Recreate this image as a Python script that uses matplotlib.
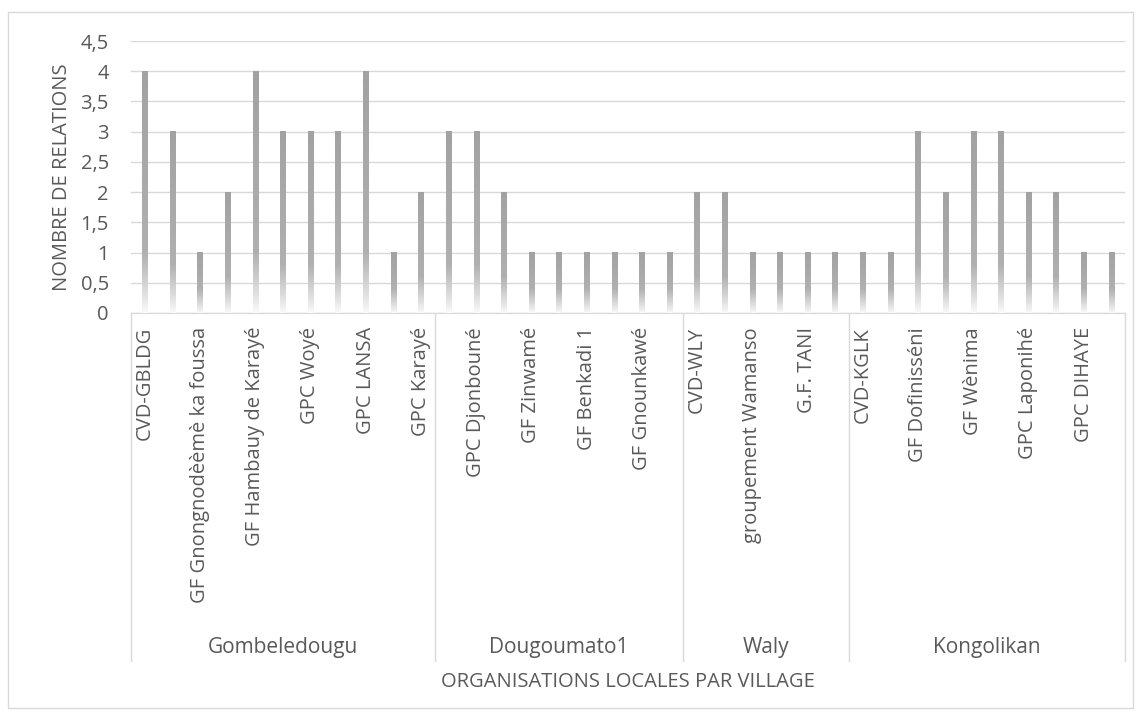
import numpy as np
import matplotlib.pyplot as plt
from matplotlib.colors import to_rgb
from matplotlib.patches import Rectangle

plt.rcParams['font.family'] = ['Open Sans', 'DejaVu Sans']

villages = ["Gombeledougu", "Dougoumato1", "Waly", "Kongolikan"]
group_sizes = [11, 9, 6, 10]

# only every other name is shown on the axis in the original
org_labels = [
    "CVD-GBLDG", "", "GF Gnongnodèèmè ka foussa", "", "GF Hambauy de Karayé", "",
    "GPC Woyé", "", "GPC LANSA", "", "GPC Karayé",
    "", "GPC Djonbouné", "", "GF Zinwamé", "", "GF Benkadi 1", "", "GF Gnounkawé", "",
    "CVD-WLY", "", "groupement Wamanso", "", "G.F. TANI", "",
    "CVD-KGLK", "", "GF Dofinisséni", "", "GF Wènima", "", "GPC Laponihé", "",
    "GPC DIHAYE", "",
]

relations = [4, 3, 1, 2, 4, 3, 3, 3, 4, 1, 2,
             3, 3, 2, 1, 1, 1, 1, 1, 1,
             2, 2, 1, 1, 1, 1,
             1, 1, 3, 2, 3, 3, 2, 2, 1, 1]

yticks = [0, 0.5, 1, 1.5, 2, 2.5, 3, 3.5, 4, 4.5]
ytick_labels = ["0", "0,5", "1", "1,5", "2", "2,5", "3", "3,5", "4", "4,5"]

txt = "#595959"
grid = "#d9d9d9"

W, H = 1141, 719
fig = plt.figure(figsize=(W / 100, H / 100), dpi=100)
fig.patches.append(Rectangle((8 / W, 1 - 708 / H), 1125 / W, 696 / H,
                             transform=fig.transFigure, fill=False,
                             edgecolor=grid, lw=1))

ax = fig.add_axes([131 / W, 1 - 313 / H, (1125 - 131) / W, (313 - 41) / H])
x = np.arange(len(relations))
bars = ax.bar(x, relations, width=0.19, color="none", zorder=3)

top_c = np.array(to_rgb("#a2a2a2"))
mid_c = np.array(to_rgb("#b0b0b0"))
white = np.array(to_rgb("#fbfbfb"))
for b in bars:
    h = b.get_height()
    yy = np.linspace(0, h, 300)
    fade = 0.2 + 0.2 * h
    t = np.clip(yy / fade, 0, 1) ** 0.9
    u = np.clip((yy - fade) / (h - fade + 1e-9), 0, 1)
    col = white + (mid_c - white) * t[:, None]
    col = col + (top_c - mid_c) * u[:, None]
    ax.imshow(col[::-1, None, :], aspect="auto", interpolation="bilinear",
              extent=[b.get_x(), b.get_x() + b.get_width(), 0, h], zorder=3)

ax.set_xlim(-0.5, len(relations) - 0.5)
ax.set_ylim(0, 4.5)
ax.set_yticks(yticks)
ax.set_yticklabels(ytick_labels)
ax.yaxis.grid(True, color=grid, lw=1)
ax.set_axisbelow(True)
for s in ["top", "right", "left"]:
    ax.spines[s].set_visible(False)
ax.spines["bottom"].set_color(grid)
ax.tick_params(axis="y", length=0, pad=16, labelsize=14.5, labelcolor=txt)
ax.set_xticks(x)
ax.set_xticklabels(org_labels, rotation=90, va="top", ha="center")
ax.tick_params(axis="x", length=0, pad=10, labelsize=14.5, labelcolor=txt)
ax.set_ylabel("NOMBRE DE RELATIONS", fontsize=14.5, color=txt, labelpad=6)

# village groups under the labels
ax_h = 313 - 41
bottom = -(661 - 313) / ax_h
edges = np.concatenate([[0], np.cumsum(group_sizes)]) - 0.5
trans = ax.get_xaxis_transform()
for e in edges:
    ax.plot([e, e], [0, bottom], transform=trans, color=grid, lw=1, clip_on=False)
for i, name in enumerate(villages):
    ax.text((edges[i] + edges[i + 1]) / 2, -(647 - 313) / ax_h, name,
            transform=trans, ha="center", va="center", fontsize=15, color=txt)

fig.text((131 + 1125) / 2 / W, 1 - 682 / H, "ORGANISATIONS LOCALES PAR VILLAGE",
         ha="center", va="center", fontsize=14.5, color=txt)

fig.savefig("out.png", dpi=100)
